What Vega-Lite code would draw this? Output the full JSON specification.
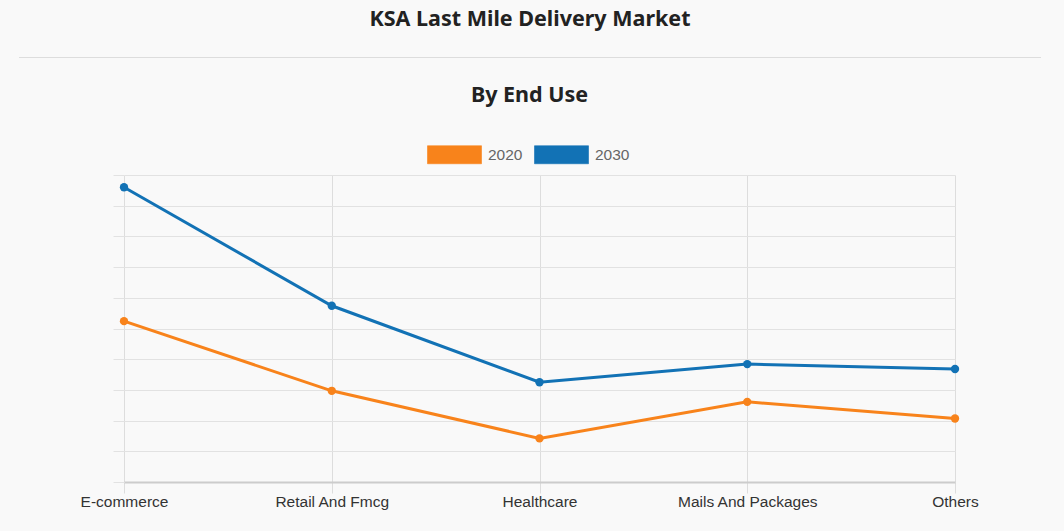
{
  "$schema": "https://vega.github.io/schema/vega-lite/v6.json",
  "background": "#f9f9f9",
  "padding": {"left": 18, "right": 24, "top": 8, "bottom": 25},
  "bounds": "flush",
  "spacing": 117,
  "config": {
    "view": {"stroke": null},
    "title": {"font": "Noto Sans", "fontSize": 21.5, "fontWeight": "bold", "color": "#222222", "anchor": "middle"}
  },
  "vconcat": [
    {
      "width": 1022,
      "height": 1,
      "title": {"text": "KSA Last Mile Delivery Market", "offset": 27},
      "data": {"values": [{"v": 0}]},
      "mark": {"type": "rule", "color": "#dddddd", "strokeWidth": 1},
      "encoding": {
        "y": {"field": "v", "type": "quantitative", "axis": null}
      }
    },
    {
      "bounds": "flush",
      "spacing": 0,
      "hconcat": [
        {
          "width": 105,
          "height": 1,
          "data": {"values": []},
          "mark": "point",
          "encoding": {}
        },
        {
          "width": 831,
          "height": 307,
          "title": {"text": "By End Use", "offset": 68, "dx": -10},
          "data": {
            "values": [
              {"segment": "E-commerce", "year": "2020", "value": 5.24},
              {"segment": "Retail And Fmcg", "year": "2020", "value": 2.97},
              {"segment": "Healthcare", "year": "2020", "value": 1.42},
              {"segment": "Mails And Packages", "year": "2020", "value": 2.61},
              {"segment": "Others", "year": "2020", "value": 2.07},
              {"segment": "E-commerce", "year": "2030", "value": 9.6},
              {"segment": "Retail And Fmcg", "year": "2030", "value": 5.74},
              {"segment": "Healthcare", "year": "2030", "value": 3.25},
              {"segment": "Mails And Packages", "year": "2030", "value": 3.84},
              {"segment": "Others", "year": "2030", "value": 3.68}
            ]
          },
          "encoding": {
            "x": {
              "field": "segment",
              "type": "nominal",
              "sort": null,
              "scale": {"type": "point", "padding": 0},
              "axis": {
                "title": null,
                "labelAngle": 0,
                "labelFont": "Liberation Sans",
                "labelFontSize": 15.5,
                "labelColor": "#333333",
                "labelPadding": 1,
                "grid": true,
                "gridColor": "#dddddd",
                "ticks": true,
                "tickSize": 11,
                "tickColor": "#dddddd",
                "domainColor": "#cccccc",
                "domainWidth": 2
              }
            },
            "y": {
              "field": "value",
              "type": "quantitative",
              "scale": {"domain": [0, 10], "nice": false},
              "axis": {
                "title": null,
                "labels": false,
                "tickCount": 10,
                "ticks": true,
                "tickSize": 11,
                "tickColor": "#e2e2e2",
                "grid": true,
                "gridColor": "#e2e2e2",
                "domain": false
              }
            },
            "color": {
              "field": "year",
              "type": "nominal",
              "scale": {"domain": ["2020", "2030"], "range": ["#f8831b", "#1272b5"]},
              "legend": {
                "title": null,
                "orient": "none",
                "direction": "horizontal",
                "legendX": 408,
                "legendY": 70,
                "symbolType": "M-1,-0.333H1V0.333H-1Z",
                "symbolSize": 2916,
                "symbolStrokeWidth": 1,
                "labelFont": "Liberation Sans",
                "labelFontSize": 15.5,
                "labelColor": "#666666",
                "labelOffset": 6,
                "columnPadding": 9,
                "encode": {
                  "symbols": {
                    "update": {
                      "fill": {"scale": "color", "field": "value"},
                      "stroke": {"scale": "color", "field": "value"},
                      "strokeOpacity": {"value": 0.6}
                    }
                  }
                }
              }
            }
          },
          "layer": [
            {"mark": {"type": "line", "strokeWidth": 3}},
            {"mark": {"type": "point", "filled": true, "size": 70, "opacity": 1}}
          ]
        }
      ]
    }
  ]
}
